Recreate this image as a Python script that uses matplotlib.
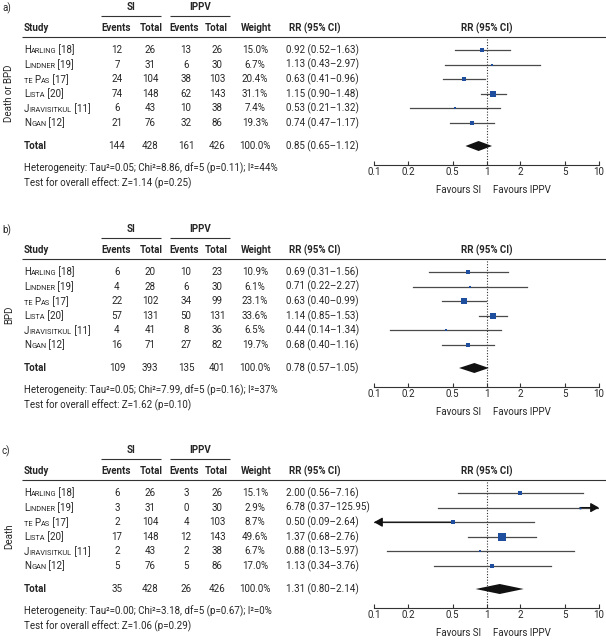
import matplotlib
matplotlib.use('Agg')
import matplotlib.pyplot as plt
from matplotlib.ticker import NullLocator
import numpy as np

plt.rcParams['font.family'] = ['Roboto', 'DejaVu Sans']
FS = 7.0
TXT = '#262626'
BLUE = '#1f4e9e'

# studies shared by all three panels
studies = ['Harling', 'Lindner', 'te Pas', 'Lista', 'Jiravisitkul', 'Ngan']
refs = ['[18]', '[19]', '[17]', '[20]', '[11]', '[12]']
ticks = [0.1, 0.2, 0.5, 1, 2, 5, 10]
tick_labels = ['0.1', '0.2', '0.5', '1', '2', '5', '10']
weight_total = 100.0

# a) death or BPD
si_events_a = [12, 7, 24, 74, 6, 21]
si_total_a = [26, 31, 104, 148, 43, 76]
ippv_events_a = [13, 6, 38, 62, 10, 32]
ippv_total_a = [26, 30, 103, 143, 38, 86]
weight_a = [15.0, 6.7, 20.4, 31.1, 7.4, 19.3]
rr_a = [0.92, 1.13, 0.63, 1.15, 0.53, 0.74]
lo_a = [0.52, 0.43, 0.41, 0.90, 0.21, 0.47]
hi_a = [1.63, 2.97, 0.96, 1.48, 1.32, 1.17]
pooled_a = [0.85, 0.65, 1.12]
het_a = 'Heterogeneity: Tau²=0.05; Chi²=8.86, df=5 (p=0.11); I²=44%'
test_a = 'Test for overall effect: Z=1.14 (p=0.25)'

# b) BPD
si_events_b = [6, 4, 22, 57, 4, 16]
si_total_b = [20, 28, 102, 131, 41, 71]
ippv_events_b = [10, 6, 34, 50, 8, 27]
ippv_total_b = [23, 30, 99, 131, 36, 82]
weight_b = [10.9, 6.1, 23.1, 33.6, 6.5, 19.7]
rr_b = [0.69, 0.71, 0.63, 1.14, 0.44, 0.68]
lo_b = [0.31, 0.22, 0.40, 0.85, 0.14, 0.40]
hi_b = [1.56, 2.27, 0.99, 1.53, 1.34, 1.16]
pooled_b = [0.78, 0.57, 1.05]
het_b = 'Heterogeneity: Tau²=0.05; Chi²=7.99, df=5 (p=0.16); I²=37%'
test_b = 'Test for overall effect: Z=1.62 (p=0.10)'

# c) death
si_events_c = [6, 3, 2, 17, 2, 5]
si_total_c = [26, 31, 104, 148, 43, 76]
ippv_events_c = [3, 0, 4, 12, 2, 5]
ippv_total_c = [26, 30, 103, 143, 38, 86]
weight_c = [15.1, 2.9, 8.7, 49.6, 6.7, 17.0]
rr_c = [2.00, 6.78, 0.50, 1.37, 0.88, 1.13]
lo_c = [0.56, 0.37, 0.09, 0.68, 0.13, 0.34]
hi_c = [7.16, 125.95, 2.64, 2.76, 5.97, 3.76]
pooled_c = [1.31, 0.80, 2.14]
het_c = 'Heterogeneity: Tau²=0.00; Chi²=3.18, df=5 (p=0.67); I²=0%'
test_c = 'Test for overall effect: Z=1.06 (p=0.29)'

W, H = 606, 640
fig = plt.figure(figsize=(W / 100, H / 100), dpi=100)
ax0 = fig.add_axes([0, 0, 1, 1])
ax0.set_xlim(0, W)
ax0.set_ylim(H, 0)
ax0.axis('off')
renderer = fig.canvas.get_renderer()


def txt(x, y, s, ha='center', bold=False, **kw):
    return ax0.text(x, y, s, ha=ha, va='center', fontsize=FS, color=TXT,
                    fontweight='bold' if bold else 'normal', **kw)


def smallcaps(x, y, name, ref):
    # capitals full size, lower case drawn as smaller capitals
    runs = []
    for ch in name:
        big = ch.isupper()
        if runs and runs[-1][1] == big:
            runs[-1][0] += ch
        else:
            runs.append([ch, big])
    runs.append([' ' + ref, True])
    for s, big in runs:
        t = ax0.text(x, y + 3.4, s if big else s.upper(), ha='left', va='baseline',
                     fontsize=FS if big else FS * 0.76, color=TXT)
        x += t.get_window_extent(renderer).width


def hline(x0, x1, y):
    ax0.plot([x0, x1], [y, y], color='#333333', lw=0.8, solid_capstyle='butt')


def fmt_ci(r, l, h):
    return f'{r:.2f} ({l:.2f}–{h:.2f})'


def panel(off, letter, outcome, se, st, ie, it, w, rr, lo, hi, pooled, het, test):
    txt(2, off + 8, letter, ha='left')
    txt(131, off + 7, 'SI', bold=True)
    hline(101, 161, off + 16)
    txt(200, off + 7, 'IPPV', bold=True)
    hline(170, 230, off + 16)

    yh = off + 28
    txt(24, yh, 'Study', ha='left', bold=True)
    txt(116, yh, 'Events', bold=True)
    txt(151, yh, 'Total', bold=True)
    txt(184, yh, 'Events', bold=True)
    txt(216, yh, 'Total', bold=True)
    txt(256, yh, 'Weight', bold=True)
    txt(289, yh, 'RR (95% CI)', ha='left', bold=True)
    txt(487, yh, 'RR (95% CI)', bold=True)
    hline(22, W, off + 37)

    rows = [50 + i * 14.6 for i in range(len(studies))]
    for i, y in enumerate(rows):
        yy = off + y
        smallcaps(24, yy, studies[i], refs[i])
        txt(117, yy, str(se[i]))
        txt(150, yy, str(st[i]))
        txt(186, yy, str(ie[i]))
        txt(217, yy, str(it[i]))
        txt(255, yy, f'{w[i]:.1f}%')
        txt(286, yy, fmt_ci(rr[i], lo[i], hi[i]), ha='left')

    yt = off + 146
    txt(24, yt, 'Total', ha='left', bold=True)
    txt(117, yt, str(sum(se)))
    txt(150, yt, str(sum(st)))
    txt(186, yt, str(sum(ie)))
    txt(217, yt, str(sum(it)))
    txt(255, yt, f'{weight_total:.1f}%')
    txt(286, yt, fmt_ci(*pooled), ha='left')

    txt(24, off + 168.5, het, ha='left')
    txt(24, off + 183.5, test, ha='left')
    txt(9, off + 93, outcome, rotation=90)
    txt(481, off + 190, 'Favours SI', ha='right')
    txt(493, off + 190, 'Favours IPPV', ha='left')

    # forest plot axes, y in panel pixel units
    ybot, ytop = 164.5, 38
    ax = fig.add_axes([374 / W, 1 - (off + ybot) / H, 225 / W, (ybot - ytop) / H])
    ax.set_xscale('log')
    ax.set_xlim(0.1, 10)
    ax.set_ylim(ybot, ytop)
    ax.patch.set_alpha(0)
    for s in ['top', 'left', 'right']:
        ax.spines[s].set_visible(False)
    ax.spines['bottom'].set_color('#333333')
    ax.spines['bottom'].set_linewidth(0.8)
    ax.set_yticks([])
    ax.set_xticks(ticks)
    ax.set_xticklabels(tick_labels)
    ax.xaxis.set_minor_locator(NullLocator())
    ax.tick_params(axis='x', direction='in', length=3, width=0.8, color='#333333',
                   labelsize=FS, labelcolor=TXT, pad=2)
    ax.axvline(1, color='#333333', lw=0.8, ls=(0, (1, 1.5)))

    x0, x1 = ax.get_xlim()
    arrow = dict(arrowstyle='-|>,head_length=0.5,head_width=0.28',
                 color='#111111', lw=0.9, shrinkA=0, shrinkB=0)
    for i, y in enumerate(rows):
        l, h = max(lo[i], x0), min(hi[i], x1)
        ax.plot([l, h], [y, y], color='#4a4a4a', lw=0.9, zorder=2)
        if hi[i] > x1:
            ax.annotate('', xy=(x1, y), xytext=(rr[i], y), arrowprops=arrow)
        if lo[i] < x0:
            ax.annotate('', xy=(x0, y), xytext=(rr[i], y), arrowprops=arrow)
        ax.plot(rr[i], y, marker='s', ms=0.77 * np.sqrt(w[i]), color=BLUE, mew=0, zorder=3)

    r, l, h = pooled
    ax.fill([l, r, h, r], [146, 141, 146, 151], color='#111111', lw=0, zorder=3)


panel(0, 'a)', 'Death or BPD', si_events_a, si_total_a, ippv_events_a, ippv_total_a,
      weight_a, rr_a, lo_a, hi_a, pooled_a, het_a, test_a)
panel(222, 'b)', 'BPD', si_events_b, si_total_b, ippv_events_b, ippv_total_b,
      weight_b, rr_b, lo_b, hi_b, pooled_b, het_b, test_b)
panel(443, 'c)', 'Death', si_events_c, si_total_c, ippv_events_c, ippv_total_c,
      weight_c, rr_c, lo_c, hi_c, pooled_c, het_c, test_c)

fig.savefig('out.png', dpi=100)
